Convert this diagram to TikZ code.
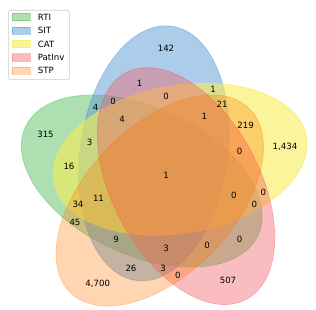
\documentclass[tikz,border=0pt]{standalone}
\usepackage{fontspec}
\setmainfont{DejaVu Sans}
\definecolor{cA}{RGB}{92,192,98}
\definecolor{cB}{RGB}{90,155,212}
\definecolor{cC}{RGB}{246,236,86}
\definecolor{cD}{RGB}{241,90,96}
\definecolor{cE}{RGB}{255,117,0}
\definecolor{frame}{RGB}{204,204,204}
\tikzset{
  lab/.style={font=\fontsize{8.6}{10}\selectfont, inner sep=0pt, text=black},
  setA/.style={fill=cA, draw=cA, fill opacity=0.5, draw opacity=0.5},
  setB/.style={fill=cB, draw=cB, fill opacity=0.5, draw opacity=0.5},
  setC/.style={fill=cC, draw=cC, fill opacity=0.6, draw opacity=0.6},
  setD/.style={fill=cD, draw=cD, fill opacity=0.4, draw opacity=0.4},
  setE/.style={fill=cE, draw=cE, fill opacity=0.3, draw opacity=0.3},
  venn/.style={line width=0.7pt},
  legpatch/.style={minimum width=18pt, minimum height=7.4pt, inner sep=0pt, line width=0.6pt},
}
\begin{document}
\begin{tikzpicture}[x=1pt, y=-1pt]
\useasboundingbox (0,0) rectangle (316,310);
% ellipses
\path[venn, setA, shift={(141.76,181.04)}, rotate=155] (0,0) ellipse [x radius=128.325pt, y radius=73.75pt];
\path[venn, setB, shift={(153.86,153.31)}, rotate=82] (0,0) ellipse [x radius=128.325pt, y radius=73.75pt];
\path[venn, setC, shift={(180.11,159.21)}, rotate=10] (0,0) ellipse [x radius=128.325pt, y radius=73.75pt];
\path[venn, setD, shift={(186.01,186.06)}, rotate=118] (0,0) ellipse [x radius=128.325pt, y radius=73.75pt];
\path[venn, setE, shift={(159.76,200.51)}, rotate=46] (0,0) ellipse [x radius=128.325pt, y radius=73.75pt];
% labels
\node[lab] (l00001) at (97.7,284.3) {4,700};
\node[lab] (l00010) at (228,280.5) {507};
\node[lab] (l00011) at (177.75,275.15) {0};
\node[lab] (l00100) at (285,146.7) {1,434};
\node[lab] (l00101) at (245.6,124.9) {219};
\node[lab] (l00110) at (263.3,192.6) {0};
\node[lab] (l00111) at (239.7,151.5) {0};
\node[lab] (l01000) at (166,48.5) {142};
\node[lab] (l01001) at (131,268.6) {26};
\node[lab] (l01010) at (139.7,83.8) {1};
\node[lab] (l01011) at (163.2,268.6) {3};
\node[lab] (l01100) at (213.2,89.6) {1};
\node[lab] (l01101) at (222,104.4) {21};
\node[lab] (l01110) at (166,96) {0};
\node[lab] (l01111) at (204.3,116.3) {1};
\node[lab] (l10000) at (45.5,134) {315};
\node[lab] (l10001) at (75,222) {45};
\node[lab] (l10010) at (239.5,239.5) {0};
\node[lab] (l10011) at (207.2,245.7) {0};
\node[lab] (l10100) at (69,166) {16};
\node[lab] (l10101) at (78,204.2) {34};
\node[lab] (l10110) at (254.4,204.4) {0};
\node[lab] (l10111) at (233.8,195.6) {0};
\node[lab] (l11000) at (95.6,107.4) {4};
\node[lab] (l11001) at (116.2,239.4) {9};
\node[lab] (l11010) at (113.2,101) {0};
\node[lab] (l11011) at (166,248.4) {3};
\node[lab] (l11100) at (89.6,142.4) {3};
\node[lab] (l11101) at (98.5,198.8) {11};
\node[lab] (l11110) at (122,118.9) {4};
\node[lab] (l11111) at (166,174.9) {1};
% legend
\node[draw=frame, fill=white, fill opacity=0.8, rounded corners=1.5pt, line width=0.6pt,
      minimum width=60.7pt, minimum height=69.3pt, inner sep=0pt, anchor=north west] (legend) at (8.3,10) {};
\node[legpatch, setA, anchor=west] (pA) at (12,17.1) {};
\node[legpatch, setB, anchor=west] (pB) at (12,30.8) {};
\node[legpatch, setC, anchor=west] (pC) at (12,44.1) {};
\node[legpatch, setD, anchor=west] (pD) at (12,57.4) {};
\node[legpatch, setE, anchor=west] (pE) at (12,70.7) {};
\node[lab, anchor=west] (tA) at (37.7,17.1) {RTI};
\node[lab, anchor=west] (tB) at (37.7,30.8) {SIT};
\node[lab, anchor=west] (tC) at (37.7,44.1) {CAT};
\node[lab, anchor=west] (tD) at (37.7,57.4) {PatInv};
\node[lab, anchor=west] (tE) at (37.7,70.7) {STP};
\end{tikzpicture}
\end{document}
